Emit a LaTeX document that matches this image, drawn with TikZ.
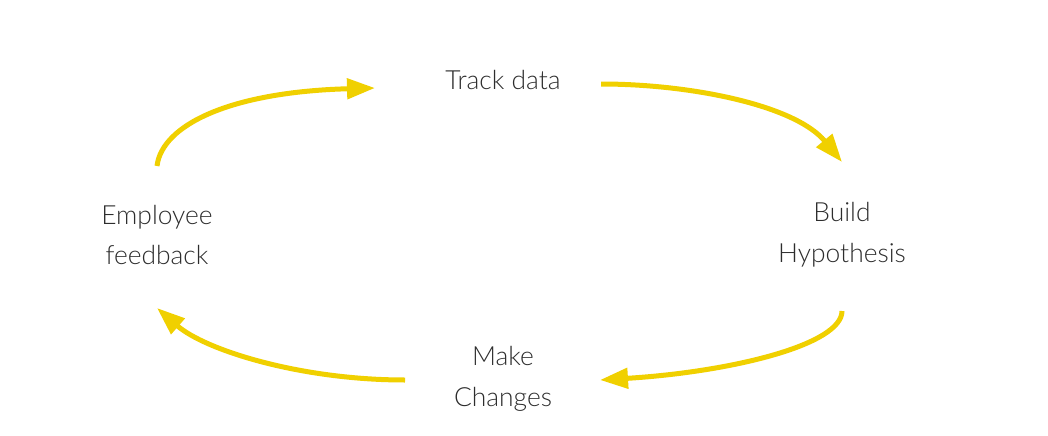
\documentclass[tikz,border=0pt]{standalone}
\usepackage{fontspec}
\setmainfont{Lato}[UprightFont=* Light]
\usepackage{tikz}
\usetikzlibrary{arrows.meta}

\begin{document}
\begin{tikzpicture}[x=0.75pt, y=-0.75pt, font=\fontsize{19.8}{30.5}\selectfont]
    \definecolor{cyell}{RGB}{240, 208, 0} % arrows
    \definecolor{ctext}{RGB}{45, 45, 45} % labels
    \tikzset{
        steplabel/.style={text=ctext, align=center, inner sep=0pt},
        cyclearrow/.style={cyell, line width=3.75pt, -{Triangle[length=21pt, width=15pt]}}
    }
    \useasboundingbox (0,0) rectangle (1048,435);

    % Labels
    \node[steplabel] (track) at (503, 80) {Track data};
    \node[steplabel] (build) at (842, 235) {Build\\Hypothesis};
    \node[steplabel] (make) at (503, 379) {Make\\Changes};
    \node[steplabel] (emp) at (157, 235) {Employee\\feedback};

    % Arrow ends
    \coordinate (e1) at (157, 166);
    \coordinate (t0) at (375, 88);
    \coordinate (t1) at (601, 84);
    \coordinate (b0) at (842, 162);
    \coordinate (b1) at (842, 311);
    \coordinate (m0) at (600, 380);
    \coordinate (m1) at (405, 380);
    \coordinate (e0) at (157, 308);

    % Cycle
    \draw[cyclearrow] (e1) .. controls (162, 125) and (230, 92) .. (t0);
    \draw[cyclearrow] (t1) .. controls (690, 84) and (795, 105) .. (b0);
    \draw[cyclearrow] (b1) .. controls (842, 345) and (730, 372) .. (m0);
    \draw[cyclearrow] (m1) .. controls (300, 380) and (205, 350) .. (e0);
\end{tikzpicture}
\end{document}
